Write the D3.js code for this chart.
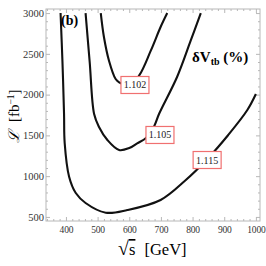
<!DOCTYPE html>
<html>
<head>
<meta charset="utf-8">
<script src="https://cdn.jsdelivr.net/npm/d3@7"></script>
<style>
  body { margin: 0; background: #fff; }
  svg { display: block; font-family: 'Liberation Serif', 'DejaVu Serif', serif; }
</style>
</head>
<body>
<svg id="chart" width="266" height="266"></svg>
<script>
// contour levels of dV_tb, each as [sqrt(s) GeV, luminosity fb^-1]
const levels = ['1.102', '1.105', '1.115']
const curve1102 = [[510, 3000], [520, 2707], [536, 2416], [557, 2191], [568, 2151], [600, 2110], [631, 2232], [668, 2539], [699, 2829], [720, 3000]]
const curve1105 = [[462, 3000], [475, 2400], [489, 1762], [504, 1606], [531, 1443], [568, 1321], [600, 1345], [625, 1403], [653, 1468], [678, 1606], [694, 1762], [751, 2216], [794, 2661], [826, 3000]]
const curve1115 = [[383, 3000], [389, 2400], [394, 1762], [396, 1407], [410, 993], [431, 793], [462, 671], [526, 552], [594, 585], [699, 708], [776, 944], [846, 1208], [912, 1502], [973, 1811], [1000, 2007]]
// label anchors [sqrt(s), L]
const labelPos = [[618, 2118], [697, 1505], [846, 1198]]
const xTicks = [400, 500, 600, 700, 800, 900, 1000]
const yTicks = [500, 1000, 1500, 2000, 2500, 3000]

let svg = d3.select('#chart')
let margin = {top: 9, right: 6, bottom: 45, left: 46}
let width = 266 - margin.left - margin.right
let height = 266 - margin.top - margin.bottom

// padded ranges like the original frame
let x = d3.scaleLinear().domain([337, 1013]).range([0, width])
let y = d3.scaleLinear().domain([450, 3050]).range([height, 0])

let g = svg.append('g')
  .attr('transform', 'translate(' + margin.left + ',' + margin.top + ')')

g.append('defs').append('clipPath')
    .attr('id', 'clip')
  .append('rect')
    .attr('width', width)
    .attr('height', height)

// ticks on all four sides, pointing inward
let xMinor = d3.range(340, 1013, 20).filter(v => v % 100 !== 0)
let yMinor = d3.range(500, 3050, 100).filter(v => v % 500 !== 0)
let tickColor = '#b8b8b8'

function sideTicks (axisGen, vals, size, transform) {
  g.append('g')
    .attr('transform', transform)
    .call(axisGen.tickValues(vals).tickSize(size).tickFormat(''))
    .call(s => s.select('.domain').remove())
    .call(s => s.selectAll('line').attr('stroke', tickColor))
}
sideTicks(d3.axisTop(x), xTicks, 4, 'translate(0,' + height + ')')
sideTicks(d3.axisTop(x), xMinor, 2, 'translate(0,' + height + ')')
sideTicks(d3.axisBottom(x), xTicks, 4, 'translate(0,0)')
sideTicks(d3.axisBottom(x), xMinor, 2, 'translate(0,0)')
sideTicks(d3.axisRight(y), yTicks, 4, 'translate(0,0)')
sideTicks(d3.axisRight(y), yMinor, 2, 'translate(0,0)')
sideTicks(d3.axisLeft(y), yTicks, 4, 'translate(' + width + ',0)')
sideTicks(d3.axisLeft(y), yMinor, 2, 'translate(' + width + ',0)')

g.append('rect')
  .attr('width', width)
  .attr('height', height)
  .attr('fill', 'none')
  .attr('stroke', tickColor)
  .attr('stroke-width', 1)

// tick labels
g.append('g')
  .attr('transform', 'translate(0,' + height + ')')
  .call(d3.axisBottom(x).tickValues(xTicks).tickSize(0).tickPadding(5).tickFormat(d3.format('d')))
  .call(s => s.select('.domain').remove())
  .selectAll('text')
    .attr('font-family', 'Liberation Serif')
    .attr('font-size', 9.5)
    .attr('letter-spacing', -0.2)
    .attr('fill', '#333')

g.append('g')
  .call(d3.axisLeft(y).tickValues(yTicks).tickSize(0).tickPadding(2).tickFormat(d3.format('d')))
  .call(s => s.select('.domain').remove())
  .selectAll('text')
    .attr('font-family', 'Liberation Serif')
    .attr('font-size', 10.5)
    .attr('fill', '#333')

// contour lines
let line = d3.line()
  .curve(d3.curveCatmullRom.alpha(0.5))
  .x(d => x(d[0]))
  .y(d => y(d[1]))

g.append('g')
  .attr('clip-path', 'url(#clip)')
  .selectAll('path')
  .data([curve1102, curve1105, curve1115])
  .enter().append('path')
    .attr('d', line)
    .attr('fill', 'none')
    .attr('stroke', '#111')
    .attr('stroke-width', 2.1)

// contour labels
let lab = g.selectAll('.clabel')
  .data(levels)
  .enter().append('g')
    .attr('class', 'clabel')
    .attr('transform', (d, i) => 'translate(' + x(labelPos[i][0]) + ',' + y(labelPos[i][1]) + ')')
lab.append('rect')
  .attr('x', -14).attr('y', -8.5)
  .attr('width', 28).attr('height', 17)
  .attr('fill', '#fff')
  .attr('stroke', '#f07070')
  .attr('stroke-width', 1.2)
lab.append('text')
  .attr('text-anchor', 'middle')
  .attr('dy', '0.35em')
  .attr('font-size', 10)
  .attr('fill', '#222')
  .text(d => d)

// panel tag and quantity
svg.append('text')
  .attr('x', 61).attr('y', 25)
  .attr('font-size', 14).attr('font-weight', 'bold')
  .text('(b)')

let q = svg.append('text')
  .attr('x', 192).attr('y', 62)
  .attr('font-size', 15).attr('font-weight', 'bold')
q.append('tspan').text('δV')
q.append('tspan').attr('font-size', 10).attr('dy', 3).text('tb')
q.append('tspan').attr('dy', -3).text(' (%)')

// axis titles
let xt = svg.append('text')
  .attr('x', 118).attr('y', 255)
  .attr('font-size', 16.5)
xt.append('tspan').attr('font-size', 20).text('√')
xt.append('tspan').attr('text-decoration', 'overline').text('s')
xt.append('tspan').attr('dx', 9).text('[GeV]')

let yt = svg.append('text')
  .attr('transform', 'translate(19,143) rotate(-90)')
  .attr('font-size', 15)
yt.append('tspan').attr('font-style', 'italic').text('ℒ')
yt.append('tspan').attr('dx', 9).text('[fb')
yt.append('tspan').attr('font-size', 9.5).attr('dy', -5).text('−1')
yt.append('tspan').attr('dy', 5).text(']')
</script>
</body>
</html>
